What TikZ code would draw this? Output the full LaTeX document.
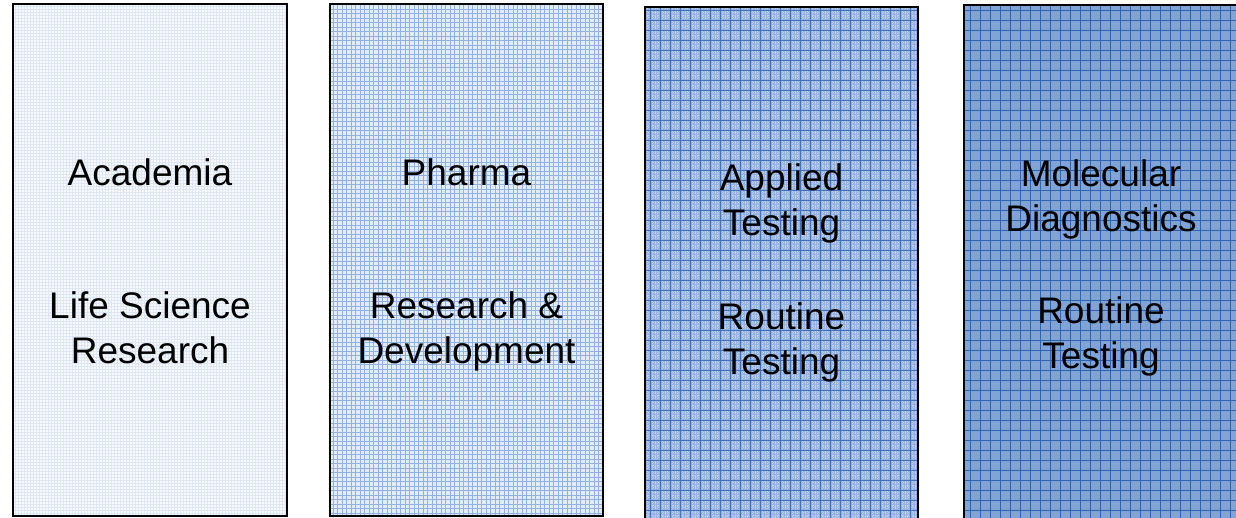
\documentclass[tikz,border=0pt]{standalone}
\usepackage{fontspec}
\setmainfont{Liberation Sans}
\begin{document}
\begin{tikzpicture}[x=1pt,y=-1pt,
  boxbase/.style={inner sep=0pt,outer sep=0pt,minimum width=#1},
  boxbase/.default=273pt,
  border/.style={draw=black,line width=1.6pt},
  lbl/.style={anchor=base,inner sep=0pt,font=\fontsize{37}{45}\selectfont}]
\useasboundingbox (0,0) rectangle (1236,517);
% box 1
\node[boxbase=274pt,minimum height=512pt,fill={rgb,255:red,247;green,249;blue,253}] (b1) at (150,260) {};
\begin{scope}
\clip (b1.north west) rectangle (b1.south east);
\draw[step=3pt,color={rgb,255:red,222;green,231;blue,245},line width=0.4pt] (b1.north west) grid (b1.south east);
\end{scope}
\draw[border] (b1.north west) rectangle (b1.south east);
% box 2
\node[boxbase,minimum height=512pt,fill={rgb,255:red,226;green,235;blue,248}] (b2) at (466.5,260) {};
\begin{scope}
\clip (b2.north west) rectangle (b2.south east);
\draw[step=4.5pt,color={rgb,255:red,145;green,177;blue,223},line width=0.8pt] (b2.north west) grid (b2.south east);
\end{scope}
\draw[border] (b2.north west) rectangle (b2.south east);
% box 3
\node[boxbase,minimum height=512pt,fill={rgb,255:red,150;green,178;blue,222}] (b3) at (781.5,263) {};
\begin{scope}
\clip (b3.north west) rectangle (b3.south east);
\draw[step=2.5pt,color={rgb,255:red,190;green,208;blue,236},line width=0.5pt,dash pattern=on 1.25pt off 1.25pt] (b3.north west) grid (b3.south east);
\draw[step=10pt,color={rgb,255:red,66;green,114;blue,186},line width=0.9pt] (b3.north west) grid (b3.south east);
\end{scope}
\draw[border] (b3.north west) rectangle (b3.south east);
% box 4
\node[boxbase=274pt,minimum height=515pt,fill={rgb,255:red,130;green,164;blue,212}] (b4) at (1101,262.5) {};
\begin{scope}
\clip (b4.north west) rectangle (b4.south east);
\draw[step=10pt,color={rgb,255:red,44;green,100;blue,178},line width=0.8pt] (b4.north west) grid (b4.south east);
\end{scope}
\draw[border] (b4.north west) rectangle (b4.south east);
% labels
\node[lbl] (t11) at (150,185) {Academia};
\node[lbl] (t12) at (150,318) {Life Science};
\node[lbl] (t13) at (150,363) {Research};
\node[lbl] (t21) at (466.5,185) {Pharma};
\node[lbl] (t22) at (466.5,318) {Research \&};
\node[lbl] (t23) at (466.5,363) {Development};
\node[lbl] (t31) at (781.5,190) {Applied};
\node[lbl] (t32) at (781.5,235) {Testing};
\node[lbl] (t33) at (781.5,329) {Routine};
\node[lbl] (t34) at (781.5,374) {Testing};
\node[lbl] (t41) at (1101,186) {Molecular};
\node[lbl] (t42) at (1101,231) {Diagnostics};
\node[lbl] (t43) at (1101,323) {Routine};
\node[lbl] (t44) at (1101,368) {Testing};
\end{tikzpicture}
\end{document}
